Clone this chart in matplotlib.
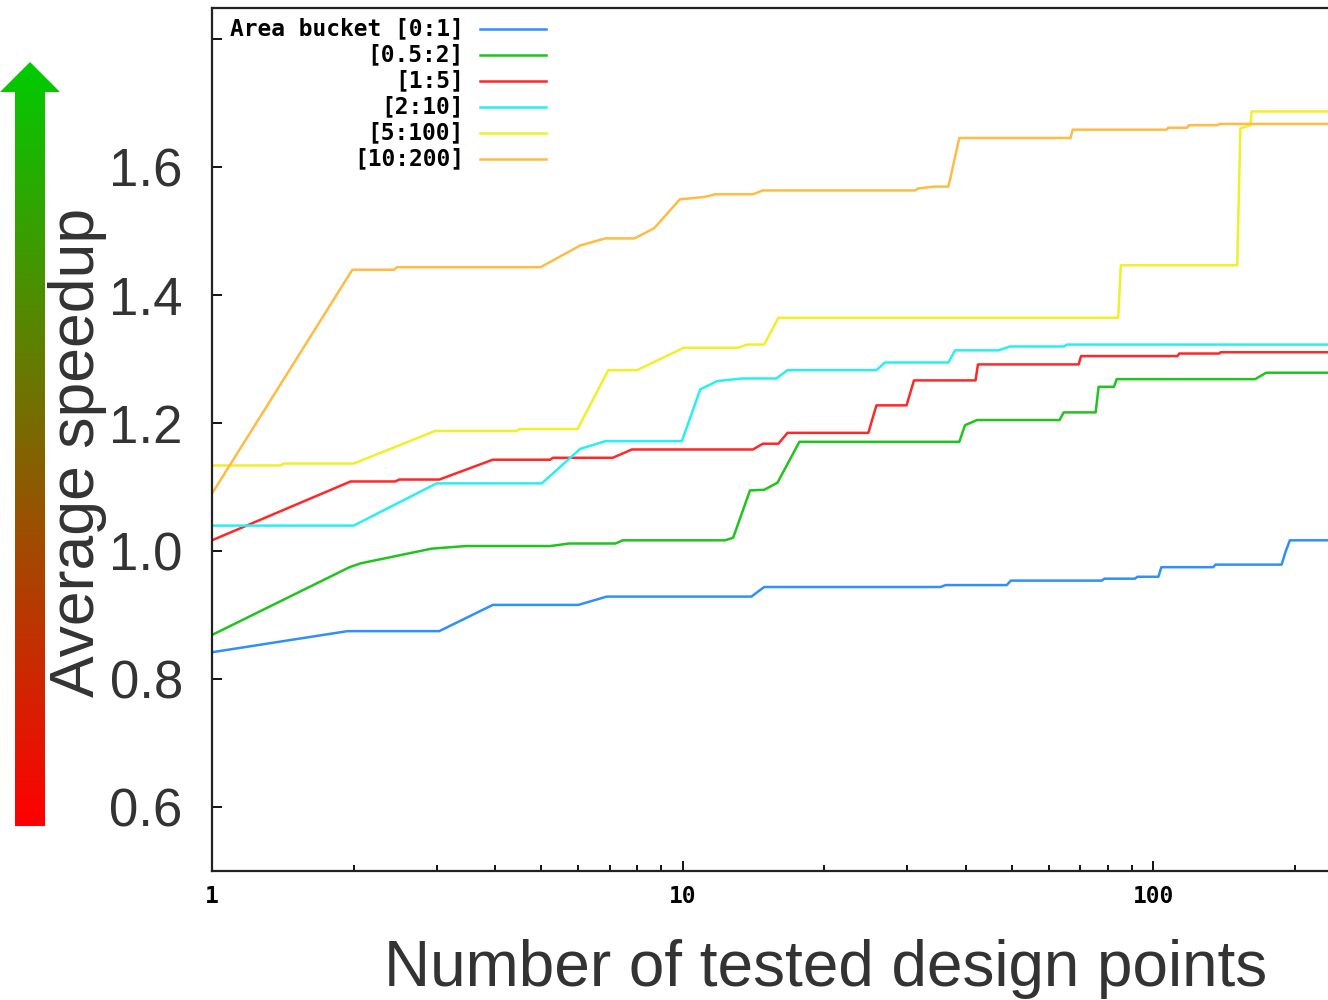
import numpy as np
import matplotlib
matplotlib.use('Agg')
import matplotlib.pyplot as plt
from matplotlib.patches import Polygon
from matplotlib.ticker import FixedLocator, LogLocator, NullFormatter

# best speedup found so far vs. number of tested design points
labels = ['Area bucket [0:1]', '[0.5:2]', '[1:5]', '[2:10]', '[5:100]', '[10:200]']
colors = ['#2f8ffc', '#1fc41f', '#ff2828', '#28f0f0', '#f0f028', '#ffbb44']

blue_x = [1, 1.94, 3.04, 3.95, 6.0, 6.9, 14.0, 14.9, 35.3, 36.2, 48.8, 49.8, 77.7, 78.7,
          91.4, 92.5, 102.5, 104, 134.1, 135.5, 187.3, 191.1, 195.0, 235]
blue_y = [0.842, 0.875, 0.875, 0.916, 0.916, 0.929, 0.929, 0.944, 0.944, 0.947, 0.947, 0.954, 0.954, 0.957,
          0.957, 0.960, 0.960, 0.975, 0.975, 0.979, 0.979, 1.000, 1.017, 1.017]

green_x = [1, 1.96, 2.07, 2.93, 3.46, 5.23, 5.74, 7.2, 7.46, 12.3, 12.8, 13.9, 14.9, 15.9, 17.7,
           38.7, 39.8, 42.2, 63.2, 64.5, 75.4, 76.5, 82.5, 83.6, 164.6, 173.7, 235]
green_y = [0.869, 0.975, 0.981, 1.004, 1.008, 1.008, 1.012, 1.012, 1.017, 1.017, 1.021, 1.095, 1.096, 1.107, 1.171,
           1.171, 1.197, 1.205, 1.205, 1.217, 1.217, 1.257, 1.257, 1.269, 1.269, 1.279, 1.279]

red_x = [1, 1.97, 2.45, 2.5, 3.04, 3.95, 5.23, 5.3, 7.1, 7.8, 14.1, 14.8, 15.97, 16.7, 24.8, 25.8,
         29.9, 31.0, 41.9, 42.4, 69.4, 70.2, 112.5, 113.5, 138, 139, 235]
red_y = [1.017, 1.109, 1.109, 1.112, 1.112, 1.143, 1.143, 1.146, 1.146, 1.159, 1.159, 1.168, 1.168, 1.185, 1.185, 1.228,
         1.228, 1.267, 1.267, 1.292, 1.292, 1.305, 1.305, 1.309, 1.309, 1.311, 1.311]

cyan_x = [1, 2.0, 3.0, 5.02, 6.06, 6.85, 9.96, 10.9, 11.85, 13.4, 15.8, 16.7, 25.8, 26.9,
          36.7, 37.9, 46.9, 49.6, 64.6, 65.5, 235]
cyan_y = [1.040, 1.040, 1.106, 1.106, 1.160, 1.172, 1.172, 1.253, 1.266, 1.270, 1.270, 1.283, 1.283, 1.295,
          1.295, 1.314, 1.314, 1.320, 1.320, 1.323, 1.323]

yellow_x = [1, 1.40, 1.42, 2.0, 2.98, 4.44, 4.5, 5.98, 6.95, 8.0, 10.05, 13.1, 13.7, 14.9, 15.97,
            84.2, 85.3, 150.7, 153.1, 160.9, 161.7, 235]
yellow_y = [1.134, 1.134, 1.137, 1.137, 1.188, 1.188, 1.191, 1.191, 1.283, 1.283, 1.318, 1.318, 1.323, 1.323, 1.365,
            1.365, 1.447, 1.447, 1.661, 1.666, 1.6875, 1.6875]

orange_x = [1, 1.987, 2.44, 2.47, 4.99, 6.06, 6.85, 7.9, 8.7, 9.86, 11.17, 11.73, 14.1, 14.8,
            31.2, 31.6, 34.2, 36.7, 38.7, 66.7, 67.4, 106.7, 107.5, 118, 118.9, 137, 138, 235]
orange_y = [1.090, 1.440, 1.440, 1.444, 1.444, 1.478, 1.489, 1.489, 1.505, 1.550, 1.554, 1.558, 1.558, 1.564,
            1.564, 1.567, 1.570, 1.570, 1.646, 1.646, 1.659, 1.659, 1.662, 1.662, 1.666, 1.666, 1.668, 1.668]

y_ticks = [0.6, 0.8, 1.0, 1.2, 1.4, 1.6, 1.8]
y_tick_labels = ['0.6', '0.8', '1.0', '1.2', '1.4', '1.6', '']
x_ticks = [1, 10, 100]
x_tick_labels = ['1', '10', '100']

series_x = [blue_x, green_x, red_x, cyan_x, yellow_x, orange_x]
series_y = [blue_y, green_y, red_y, cyan_y, yellow_y, orange_y]

W, H = 1328, 1000
mono = dict(family='DejaVu Sans Mono', weight='bold')
sans = 'Liberation Sans'
grey = '#333333'

fig = plt.figure(figsize=(W / 100, H / 100), dpi=100)
ax = fig.add_axes([212 / W, 129 / H, (W - 212) / W, 863.5 / H])

for xs, ys, c in zip(series_x, series_y, colors):
    ax.plot(xs, ys, color=c, lw=1.8)

ax.set_xscale('log')
ax.set_xlim(1, 235)
ax.set_ylim(0.5, 1.85)

ax.xaxis.set_major_locator(FixedLocator(x_ticks))
ax.xaxis.set_minor_locator(LogLocator(base=10, subs=np.arange(2, 10), numticks=20))
ax.xaxis.set_minor_formatter(NullFormatter())
ax.set_xticklabels(x_tick_labels, fontsize=16.5, **mono)
for lbl in ax.get_xticklabels():
    lbl.set_x(lbl.get_position()[0])
ax.set_yticks(y_ticks)
ax.set_yticklabels(y_tick_labels, fontsize=38, family=sans, color=grey)

ax.tick_params(axis='x', which='major', direction='in', length=7, width=1.3, pad=10)
ax.tick_params(axis='x', which='minor', direction='in', length=4, width=1.3)
ax.tick_params(axis='y', direction='in', length=7, width=1.3, pad=21)

for side in ['left', 'bottom', 'top']:
    ax.spines[side].set_color('#222222')
    ax.spines[side].set_linewidth(1.6)
ax.spines['right'].set_visible(False)

# gnuplot style key: text right-aligned, sample line to the right
ax_w, ax_h = W - 212, 863.5
for i, (lab, c) in enumerate(zip(labels, colors)):
    yy = 1 - (29 + 26 * i - 7.5) / ax_h
    ax.text((464 - 212) / ax_w, yy, lab, transform=ax.transAxes, ha='right', va='center',
            fontsize=16.5, **mono)
    ax.plot([(480 - 212) / ax_w, (546 - 212) / ax_w], [yy, yy], transform=ax.transAxes,
            color=c, lw=1.8, clip_on=False)

fig.text(826 / W, 1 - 986 / H, 'Number of tested design points', ha='center', va='baseline',
         fontsize=46, family=sans, color=grey)
fig.text(78 / W, 1 - 452 / H, 'Average speedup', rotation=90, ha='center', va='center',
         fontsize=45, family=sans, color=grey)

# red -> green arrow on the far left
ov = fig.add_axes([0, 0, 1, 1])
ov.axis('off')
t = np.linspace(0, 1, 256)[:, None]
green = np.array([0.0, 0.8, 0.0])
red = np.array([1.0, 0.0, 0.0])
grad = (green * (1 - t) + red * t)[:, None, :]
img = ov.imshow(grad, extent=(0, 60, 826, 62), origin='upper', aspect='auto', interpolation='bilinear')
arrow = Polygon([(15, 826), (45, 826), (45, 92), (60, 92), (30, 62), (0, 92), (15, 92)],
                closed=True, facecolor='none', edgecolor='none')
ov.add_patch(arrow)
img.set_clip_path(arrow)
ov.set_xlim(0, W)
ov.set_ylim(H, 0)

fig.savefig('out.png', dpi=100)
